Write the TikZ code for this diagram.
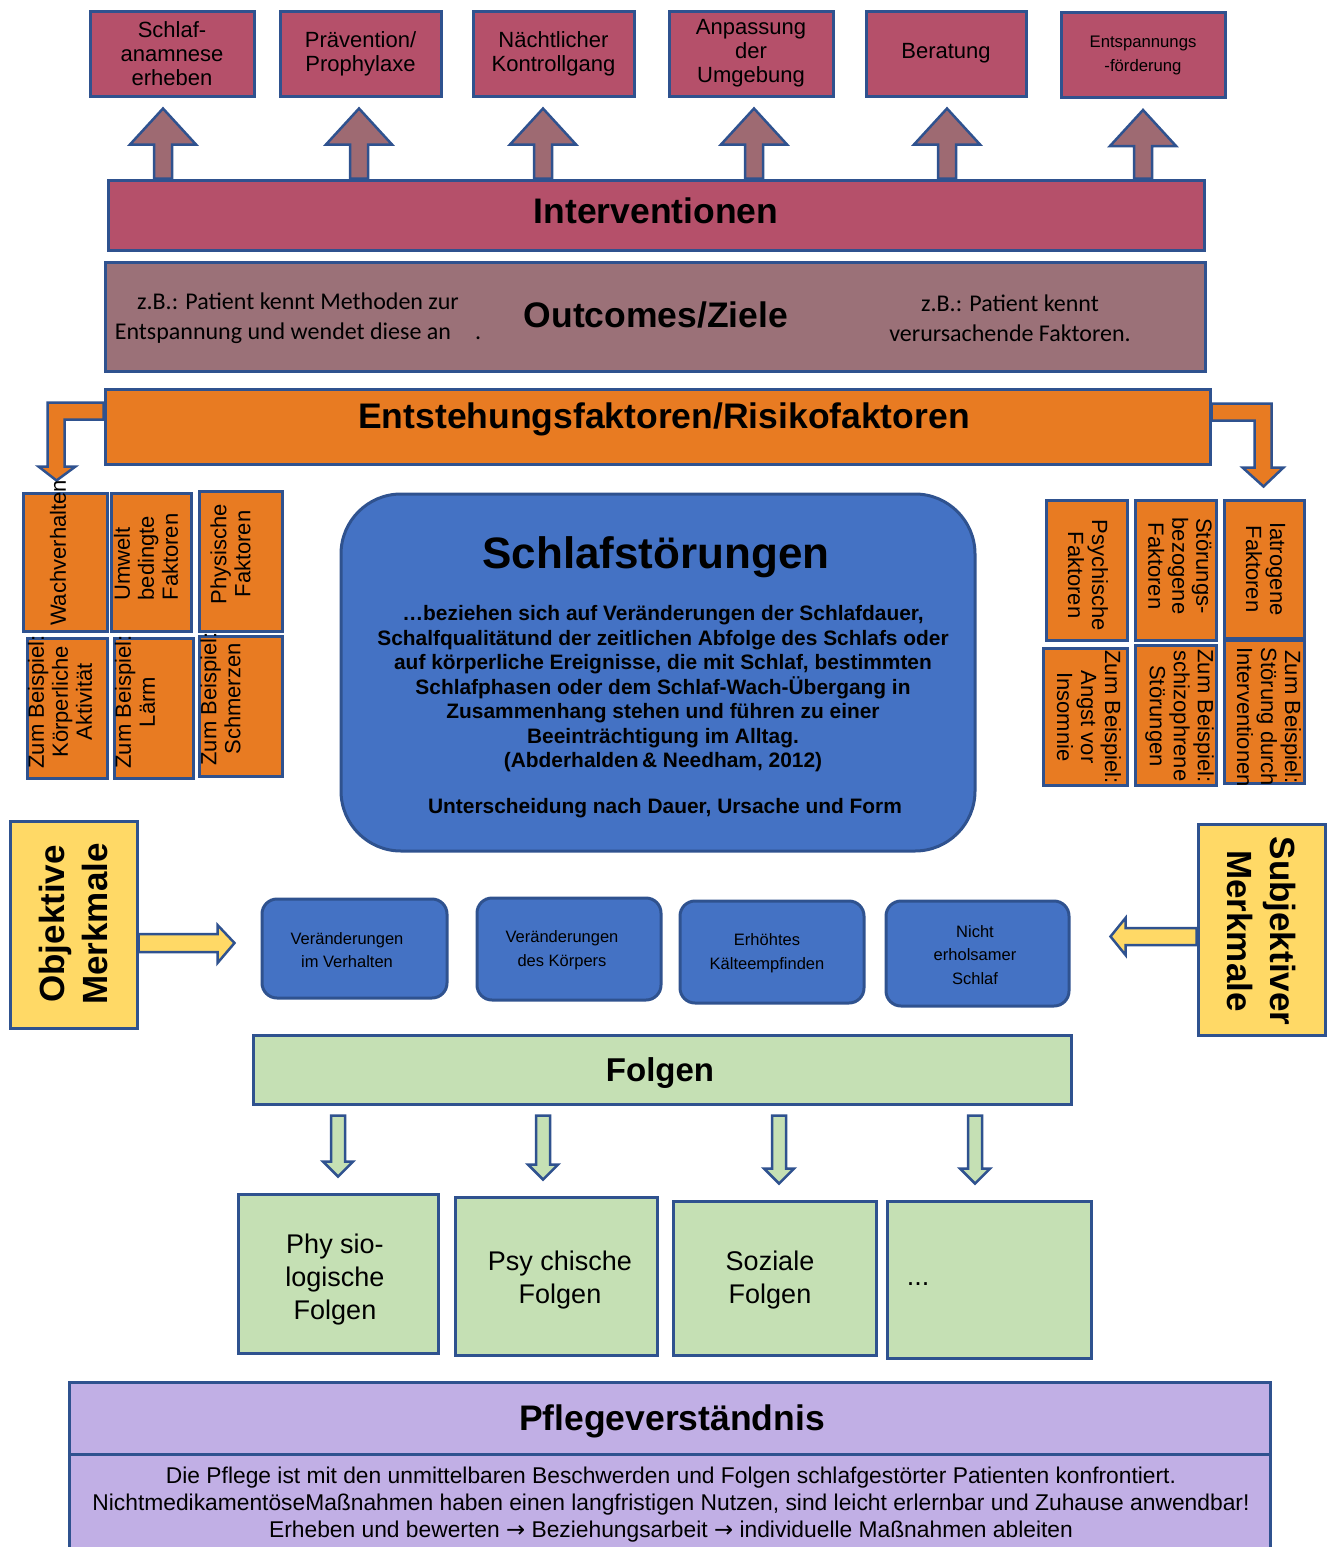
\documentclass[tikz,border=0pt]{standalone}
\usepackage{fontspec}
\setmainfont{Liberation Sans}
\newfontfamily\calibri{Carlito}
\newfontfamily\dejavu{DejaVu Sans}
\usetikzlibrary{calc}

\definecolor{rahmen}{HTML}{2F528F}
\definecolor{rosa}{HTML}{B5506A}
\definecolor{mauve}{HTML}{9E6A72}
\definecolor{altrosa}{HTML}{9B7178}
\definecolor{orangeF}{HTML}{E87B22}
\definecolor{blauF}{HTML}{4472C4}
\definecolor{gelbF}{HTML}{FFD966}
\definecolor{gruenF}{HTML}{C5E0B4}
\definecolor{lilaF}{HTML}{C1AFE5}

\tikzset{
  rand/.style={draw=rahmen, line width=3pt, inner sep=0pt},
  topbox/.style={rand, fill=rosa, minimum height=85pt, align=center, font=\fontsize{22}{24}\selectfont},
  orabox/.style={rand, fill=orangeF},
  oratext/.style={align=center, inner sep=0pt, font=\fontsize{22}{24}\selectfont},
  titel/.style={font=\bfseries\fontsize{35.5}{40}\selectfont},
  symbox/.style={rand, fill=blauF, rounded corners=15pt},
  symtext/.style={align=center, font=\fontsize{16.5}{23.5}\selectfont},
  folgebox/.style={rand, fill=gruenF},
  folgetext/.style={align=center, font=\fontsize{27}{33}\selectfont},
  merkbox/.style={rand, fill=gelbF},
  merktext/.style={align=center, inner sep=0pt, font=\bfseries\fontsize{35}{43}\selectfont},
  hochpfeil/.style={draw=rahmen, line width=2.5pt, fill=mauve},
  runterpfeil/.style={draw=rahmen, line width=2.5pt, fill=gruenF},
  knickpfeil/.style={draw=rahmen, line width=2.5pt, fill=orangeF},
  gelbpfeil/.style={draw=rahmen, line width=2.5pt, fill=gelbF},
}
\newcommand{\pfeilR}{{\dejavu →}}

\begin{document}
\begin{tikzpicture}[x=1pt, y=-1pt]
\useasboundingbox (0,0) rectangle (1327,1547);

% Interventionen
\node[topbox, minimum width=164pt] (t1) at (172,53.5) {Schlaf-\\anamnese\\erheben};
\node[topbox, minimum width=161pt] (t2) at (360.5,53.5) {Prävention/\\Prophylaxe};
\node[topbox, minimum width=161pt] (t3) at (553.5,53.5) {Nächtlicher\\Kontrollgang};
\node[topbox, minimum width=164pt] (t4) at (751,53.5) {Anpassung\\der\\Umgebung};
\node[topbox, minimum width=160pt] (t5) at (946,53.5) {Beratung};
\node[topbox, minimum width=164pt, font=\fontsize{16.7}{24}\selectfont] (t6) at (1143,55) {Entspannungs\\-förderung};

\node[rand, fill=rosa, minimum width=1096pt, minimum height=70pt] (inter) at (656,215) {};
\node[titel] (interT) at (656,211) {Interventionen};

\foreach \px/\bx in {163/t1,359/t2,543/t3,754/t4,947/t5,1143/t6}
  \draw[hochpfeil] let \p1=(\bx.south), \p2=(inter.north) in
    (\px*1pt-9pt,\y2) -- (\px*1pt-9pt,\y1-47pt) -- (\px*1pt-33pt,\y1-47pt) -- (\px*1pt,\y1-11pt)
    -- (\px*1pt+33pt,\y1-47pt) -- (\px*1pt+9pt,\y1-47pt) -- (\px*1pt+9pt,\y2) -- cycle;

% Outcomes
\node[rand, fill=altrosa, minimum width=1100pt, minimum height=109pt] (ziele) at (655,316.5) {};
\node[titel] (zieleT) at (656,315) {Outcomes/Ziele};
\node[align=center, font=\calibri\fontsize{24}{30}\selectfont] (ziel1) at (298,318) {z.B.: Patient kennt Methoden zur\\Entspannung und wendet diese an\quad.};
\node[align=center, font=\calibri\fontsize{24}{30}\selectfont] (ziel2) at (1010,318) {z.B.: Patient kennt\\verursachende Faktoren.};

% Entstehungsfaktoren
\node[orabox, minimum width=1105pt, minimum height=75pt] (ent) at (657.5,426.5) {};
\node[titel] (entT) at (664,419) {Entstehungsfaktoren/Risikofaktoren};

\draw[knickpfeil] ([yshift=-15pt]ent.north west) -- ++(-56,0) -- ++(0,64) -- ++(-9,0) -- ++(18,14)
  -- ++(19,-14) -- ++(-11,0) -- ++(0,-47) -- ++(39,0) -- cycle;
\draw[knickpfeil] ([yshift=-16pt]ent.north east) -- ++(60,0) -- ++(0,64) -- ++(12,0) -- ++(-20,19)
  -- ++(-21,-19) -- ++(12,0) -- ++(0,-47) -- ++(-43,0) -- cycle;

% links
\node[orabox, minimum width=84pt, minimum height=138pt] (a1) at (65,562) {};
\node[orabox, minimum width=80pt, minimum height=138pt] (a2) at (151,562) {};
\node[orabox, minimum width=83pt, minimum height=140pt] (a3) at (240.5,561) {};
\node[orabox, minimum width=80pt, minimum height=140pt] (b1) at (67,708) {};
\node[orabox, minimum width=79pt, minimum height=140pt] (b2) at (153.5,708) {};
\node[orabox, minimum width=83pt, minimum height=140pt] (b3) at (240.5,706) {};
\node[oratext, rotate=90] (a1T) at (58,553) {Wachverhalten};
\node[oratext, rotate=90, align=left] (a2T) at (146,557) {Umwelt\\bedingte\\Faktoren};
\node[oratext, rotate=90] (a3T) at (230.5,554) {Physische\\Faktoren};
\node[oratext, rotate=90] (b1T) at (60,702) {Zum Beispiel:\\Körperliche\\Aktivität};
\node[oratext, rotate=90] (b2T) at (135,702) {Zum Beispiel:\\Lärm};
\node[oratext, rotate=90] (b3T) at (220.5,699) {Zum Beispiel:\\Schmerzen};

% rechts
\node[orabox, minimum width=81pt, minimum height=140pt] (c1) at (1086.5,570) {};
\node[orabox, minimum width=81pt, minimum height=140pt] (c2) at (1175.5,570) {};
\node[orabox, minimum width=80pt, minimum height=138pt] (c3) at (1264,569) {};
\node[orabox, minimum width=84pt, minimum height=137pt] (d1) at (1085,716.5) {};
\node[orabox, minimum width=81pt, minimum height=140pt] (d2) at (1175.5,715) {};
\node[orabox, minimum width=80pt, minimum height=143pt] (d3) at (1264,711.5) {};
\node[oratext, rotate=-90] (c1T) at (1088,575) {Psychische\\Faktoren};
\node[oratext, rotate=-90] (c2T) at (1180,566) {Störungs-\\bezogene\\Faktoren};
\node[oratext, rotate=-90] (c3T) at (1265.5,569) {Iatrogene\\Faktoren};
\node[oratext, rotate=-90] (d1T) at (1089,717) {Zum Beispiel:\\Angst vor\\Insomnie};
\node[oratext, rotate=-90] (d2T) at (1179.5,716) {Zum Beispiel:\\schizophrene\\Störungen};
\node[oratext, rotate=-90] (d3T) at (1269,717) {Zum Beispiel:\\Störung durch\\Interventionen};

% Schlafstoerungen
\node[rand, fill=blauF, rounded corners=60pt, minimum width=634pt, minimum height=357pt] (schlaf) at (658,672.5) {};
\node[font=\bfseries\fontsize{44}{50}\selectfont] (schlafT) at (656,557) {Schlafstörungen};
\node[align=center, font=\bfseries\fontsize{20.9}{24.5}\selectfont] (def) at (663,689)
  {…beziehen sich auf Veränderungen der Schlafdauer,\\
   Schalfqualitätund der zeitlichen Abfolge des Schlafs oder\\
   auf körperliche Ereignisse, die mit Schlaf, bestimmten\\
   Schlafphasen oder dem Schlaf-Wach-Übergang in\\
   Zusammenhang stehen und führen zu einer\\
   Beeinträchtigung im Alltag.\\
   (Abderhalden\,\& Needham, 2012)};
\node[font=\bfseries\fontsize{20.9}{24.5}\selectfont] (unter) at (665,808) {Unterscheidung nach Dauer, Ursache und Form};

% Merkmale
\node[merkbox, minimum width=127pt, minimum height=207pt] (obj) at (73.5,924.5) {};
\node[merktext, rotate=90] (objT) at (73.5,924) {Objektive\\Merkmale};
\node[merkbox, minimum width=127pt, minimum height=211pt] (subj) at (1261.5,929.5) {};
\node[merktext, rotate=-90] (subjT) at (1261.5,931) {Subjektiver\\Merkmale};

\draw[gelbpfeil] ([yshift=-9.5pt]obj.east) -- ++(79,0) -- ++(0,-9) -- ++(17,18) -- ++(-17,20)
  -- ++(0,-11) -- ++(-79,0) -- cycle;
\draw[gelbpfeil] ([yshift=1.5pt]subj.west) -- ++(-71,0) -- ++(0,-10) -- ++(-15,18.5) -- ++(15,18.5)
  -- ++(0,-10) -- ++(71,0) -- cycle;

\node[symbox, minimum width=185pt, minimum height=99pt] (m1) at (354.5,948.5) {};
\node[symbox, minimum width=184pt, minimum height=102pt] (m2) at (569,949) {};
\node[symbox, minimum width=184pt, minimum height=102pt] (m3) at (772,952) {};
\node[symbox, minimum width=183pt, minimum height=105pt] (m4) at (977.5,953.5) {};
\node[symtext] (m1T) at (347,950) {Veränderungen\\im Verhalten};
\node[symtext] (m2T) at (562,950) {Veränderungen\\des Körpers};
\node[symtext] (m3T) at (767,953) {Erhöhtes\\Kälteempfinden};
\node[symtext] (m4T) at (975,955) {Nicht\\erholsamer\\Schlaf};

% Folgen
\node[folgebox, minimum width=818pt, minimum height=69pt] (folgen) at (662,1069.5) {};
\node[font=\bfseries\fontsize{33}{38}\selectfont] (folgenT) at (660,1073) {Folgen};
\node[folgebox, minimum width=200pt, minimum height=159pt] (g1) at (338,1273.5) {};
\node[folgebox, minimum width=202pt, minimum height=158pt] (g2) at (556,1276) {};
\node[folgebox, minimum width=203pt, minimum height=154pt] (g3) at (774.5,1278) {};
\node[folgebox, minimum width=204pt, minimum height=157pt] (g4) at (989,1279.5) {};
\node[folgetext] (g1T) at (335,1280) {Phy sio-\\logische\\Folgen};
\node[folgetext] (g2T) at (560,1280) {Psy chische\\Folgen};
\node[folgetext] (g3T) at (770,1280) {Soziale\\Folgen};
\node[folgetext] (g4T) at (918,1284) {...};

\foreach \px/\bx in {338/g1,543/g2,779/g3,975/g4}
  \draw[runterpfeil] let \p1=(folgen.south), \p2=(\bx.north) in
    (\px*1pt-7pt,\y1-10pt) -- (\px*1pt-7pt,\y2+31pt) -- (\px*1pt-15pt,\y2+31pt) -- (\px*1pt,\y2+16pt)
    -- (\px*1pt+15pt,\y2+31pt) -- (\px*1pt+7pt,\y2+31pt) -- (\px*1pt+7pt,\y1-10pt) -- cycle;

% Pflegeverstaendnis
\node[rand, fill=lilaF, minimum width=1201pt, minimum height=72pt] (pflege) at (669.5,1418) {};
\node[titel] (pflegeT) at (672,1421) {Pflegeverständnis};
\node[rand, fill=lilaF, minimum width=1201pt, minimum height=96pt] (pflegeB) at (669.5,1502) {};
\node[align=center, font=\fontsize{22.8}{27}\selectfont] (pflegeX) at (671,1505)
  {Die Pflege ist mit den unmittelbaren Beschwerden und Folgen schlafgestörter Patienten konfrontiert.\\
   NichtmedikamentöseMaßnahmen haben einen langfristigen Nutzen, sind leicht erlernbar und Zuhause anwendbar!\\
   Erheben und bewerten \pfeilR{} Beziehungsarbeit \pfeilR{} individuelle Maßnahmen ableiten};
\end{tikzpicture}
\end{document}
